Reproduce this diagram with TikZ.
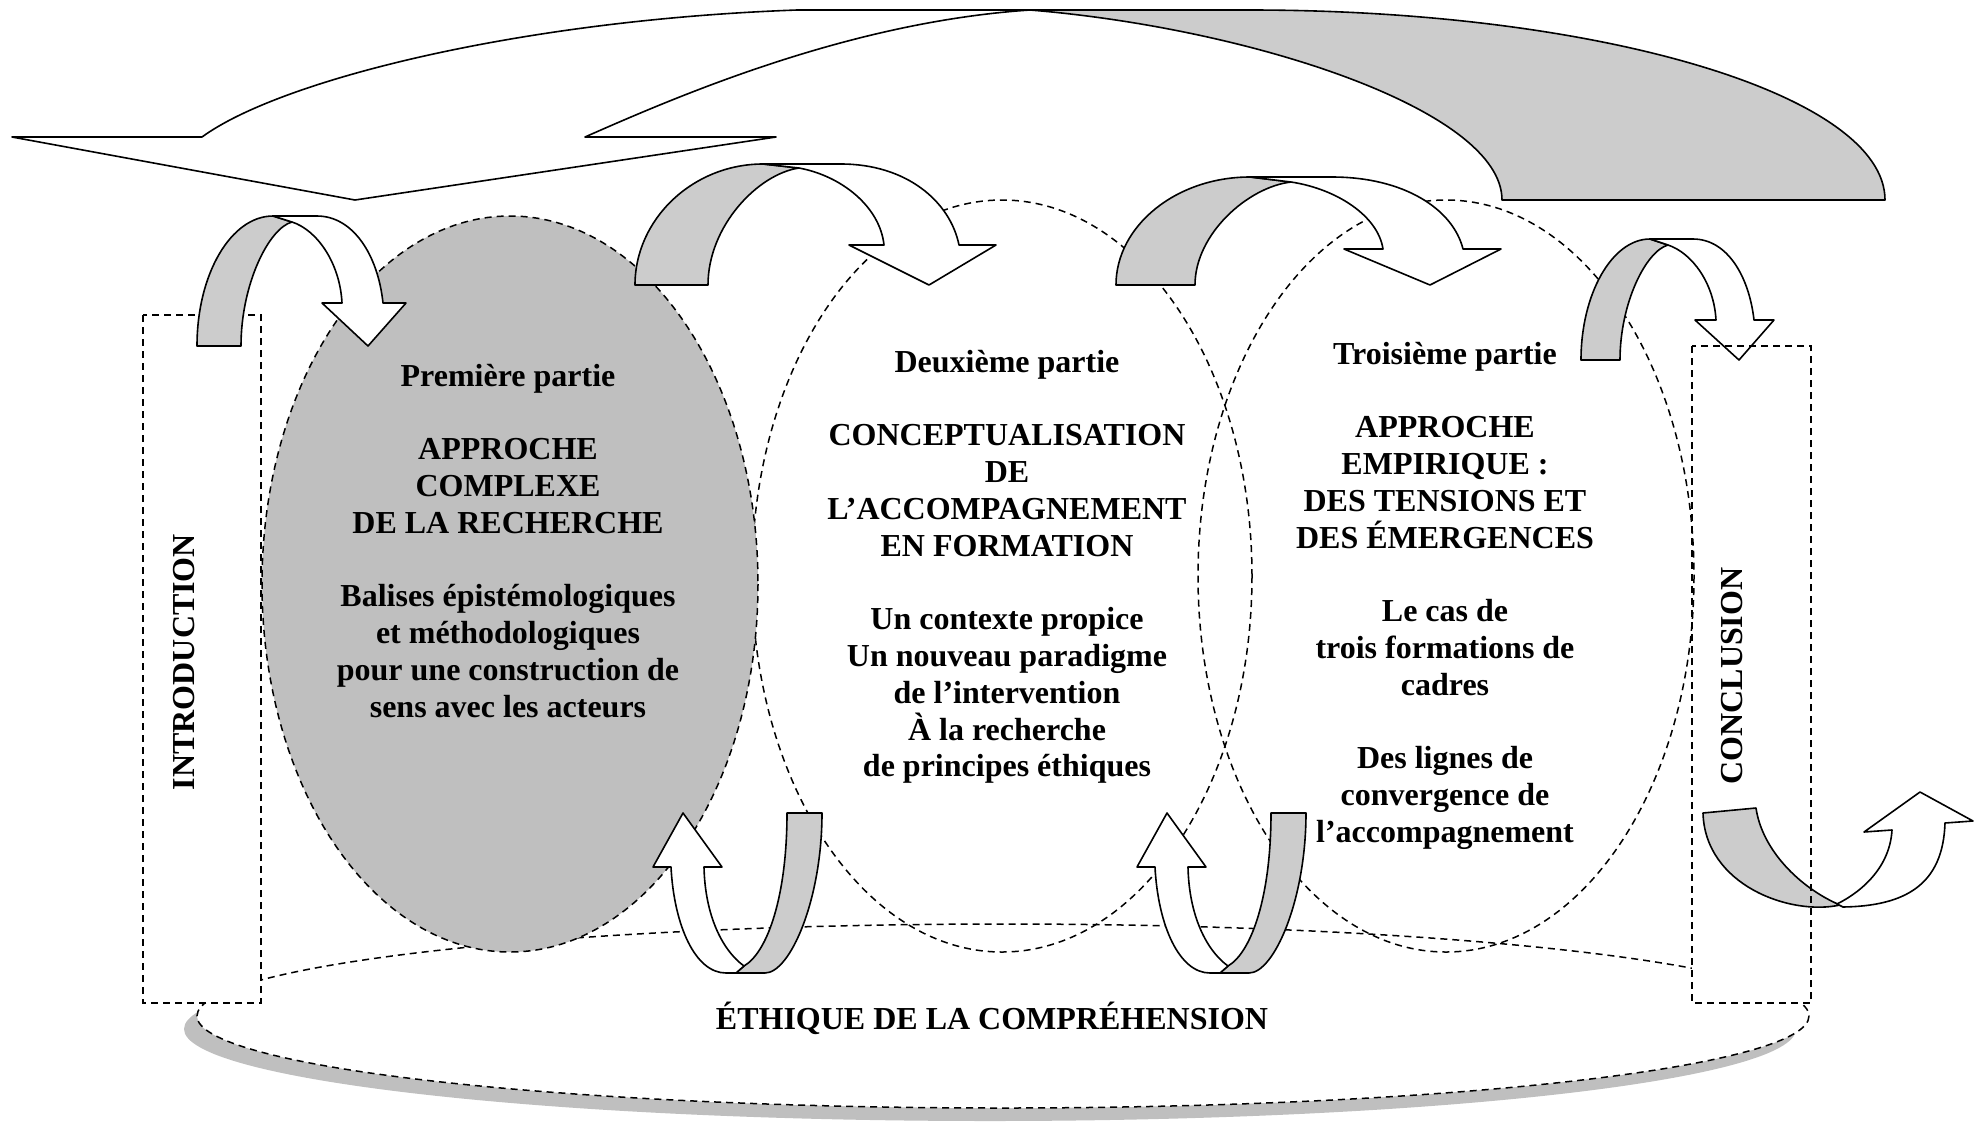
\documentclass[tikz,border=0pt]{standalone}
\usepackage{fontspec}
\setmainfont{Liberation Serif}
\definecolor{ribcol}{gray}{0.8}
\definecolor{partcol}{gray}{0.75}
\definecolor{shadcol}{gray}{0.75}
\begin{document}
\begin{tikzpicture}[x=0.5pt,y=-0.5pt]
\tikzset{
  dsh/.style={draw=black, dash pattern=on 3.5pt off 2.5pt, line width=0.75pt},
  rib/.style={draw=black, line width=0.8pt, fill=white, line join=round},
  ribg/.style={rib, fill=ribcol},
  lbl/.style={font=\fontsize{16pt}{18.4pt}\selectfont\bfseries, align=center, inner sep=0pt},
}
\useasboundingbox (0,0) rectangle (1978,1121);

% bottom ellipse with shadow
\fill[shadcol] (990,1029) ellipse [x radius=806, y radius=92];
\draw[dsh, fill=white] (1003,1016) ellipse [x radius=806, y radius=92];

% side boxes
\draw[dsh, fill=white] (143,315) rectangle (261,1003);
\fill[white] (1692,346) rectangle (1811,1003);

% the three parts
\draw[dsh] (1002,576) ellipse [x radius=250, y radius=376];
\draw[dsh] (1446,576) ellipse [x radius=248, y radius=376];
\draw[dsh, fill=partcol] (510,584) ellipse [x radius=248, y radius=368];

% big top arrow
\draw[ribg] (1030,10) -- (1250,10) .. controls (1600,10) and (1885,95) .. (1885,200)
  -- (1502,200) .. controls (1502,110) and (1250,28) .. (1030,10) -- cycle;
\draw[rib] (12,137) -- (202,137) .. controls (280,80) and (520,20) .. (797,10) -- (1030,10)
  .. controls (850,22) and (680,95) .. (585,137) -- (776,137) -- (355,200) -- cycle;

% arrow A (introduction -> premiere)
\draw[ribg] (197,346) -- (241,346) .. controls (241,284) and (269,228) .. (292,222) -- (273,216)
  .. controls (231,216) and (197,274) .. (197,346) -- cycle;
\draw[rib] (273,216) -- (317,216) .. controls (353,216) and (378,255) .. (383,303) -- (406,303)
  -- (368,346) -- (322,303) -- (342,303) .. controls (340,263) and (317,230) .. (292,222) -- cycle;

% arrow B
\draw[ribg] (635,285) -- (708,285) .. controls (708,226) and (758,174) .. (799,168) -- (763,164)
  .. controls (693,164) and (635,219) .. (635,285) -- cycle;
\draw[rib] (763,164) -- (841,164) .. controls (906,164) and (950,201) .. (959,245) -- (996,245)
  -- (929,285) -- (849,245) -- (884,245) .. controls (880,207) and (842,176) .. (799,168) -- cycle;

% arrow C
\draw[ribg] (1116,285) -- (1195,285) .. controls (1195,234) and (1248,187) .. (1291,182) -- (1250,177)
  .. controls (1176,177) and (1116,226) .. (1116,285) -- cycle;
\draw[rib] (1250,177) -- (1332,177) .. controls (1404,177) and (1453,209) .. (1463,249) -- (1501,249)
  -- (1430,285) -- (1344,249) -- (1383,249) .. controls (1378,216) and (1337,189) .. (1291,182) -- cycle;

% arrow D
\draw[ribg] (1581,360) -- (1620,360) .. controls (1620,303) and (1646,251) .. (1668,245) -- (1650,239)
  .. controls (1612,239) and (1581,294) .. (1581,360) -- cycle;
\draw[rib] (1650,239) -- (1693,239) .. controls (1727,239) and (1749,276) .. (1754,320) -- (1774,320)
  -- (1739,360) -- (1695,320) -- (1716,320) .. controls (1714,283) and (1692,253) .. (1668,245) -- cycle;

% bottom arrows E and F
\foreach \dx in {0,484}{
\begin{scope}[shift={(\dx,0)}]
\draw[ribg] (787,813) -- (822,813) .. controls (822,900) and (790,973) .. (765,973) -- (736,973)
  -- (744,966) .. controls (768,952) and (787,895) .. (787,813) -- cycle;
\draw[rib] (671,867) -- (653,867) -- (683,813) -- (722,867) -- (704,867)
  .. controls (705,915) and (722,950) .. (744,966) -- (736,973) -- (726,973)
  .. controls (695,973) and (674,925) .. (671,867) -- cycle;
\end{scope}}

% arrow G (conclusion, outward)
\draw[ribg] (1703,813) -- (1756,808) .. controls (1762,850) and (1800,888) .. (1840,905)
  .. controls (1790,916) and (1705,885) .. (1703,813) -- cycle;
\draw[rib] (1837,904) .. controls (1865,890) and (1890,865) .. (1892,830) -- (1864,832) -- (1920,792)
  -- (1973,821) -- (1945,823) .. controls (1943,885) and (1905,906) .. (1843,907) -- cycle;

% conclusion box border
\draw[dsh] (1692,346) rectangle (1811,1003);

% texts
\node[lbl, anchor=north] (p1) at (508,360) {\strut Première partie\\ \strut\\
  APPROCHE\\ COMPLEXE\\ DE LA RECHERCHE\\ \strut\\
  Balises épistémologiques\\ et méthodologiques\\ pour une construction de\\ sens avec les acteurs};
\node[lbl, anchor=north] (p2) at (1007,346) {\strut Deuxième partie\\ \strut\\
  CONCEPTUALISATION\\ DE\\ L’ACCOMPAGNEMENT\\ EN FORMATION\\ \strut\\
  Un contexte propice\\ Un nouveau paradigme\\ de l’intervention\\ À la recherche\\ de principes éthiques};
\node[lbl, anchor=north] (p3) at (1445,338) {\strut Troisième partie\\ \strut\\
  APPROCHE\\ EMPIRIQUE :\\ DES TENSIONS ET\\ DES ÉMERGENCES\\ \strut\\
  Le cas de\\ trois formations de\\ cadres\\ \strut\\
  Des lignes de\\ convergence de\\ l’accompagnement};
\node[lbl, rotate=90] (intro) at (184,662) {INTRODUCTION};
\node[lbl, rotate=90] (concl) at (1732,676) {CONCLUSION};
\node[lbl] (ethique) at (992,1018) {ÉTHIQUE DE LA COMPRÉHENSION};
\end{tikzpicture}
\end{document}
